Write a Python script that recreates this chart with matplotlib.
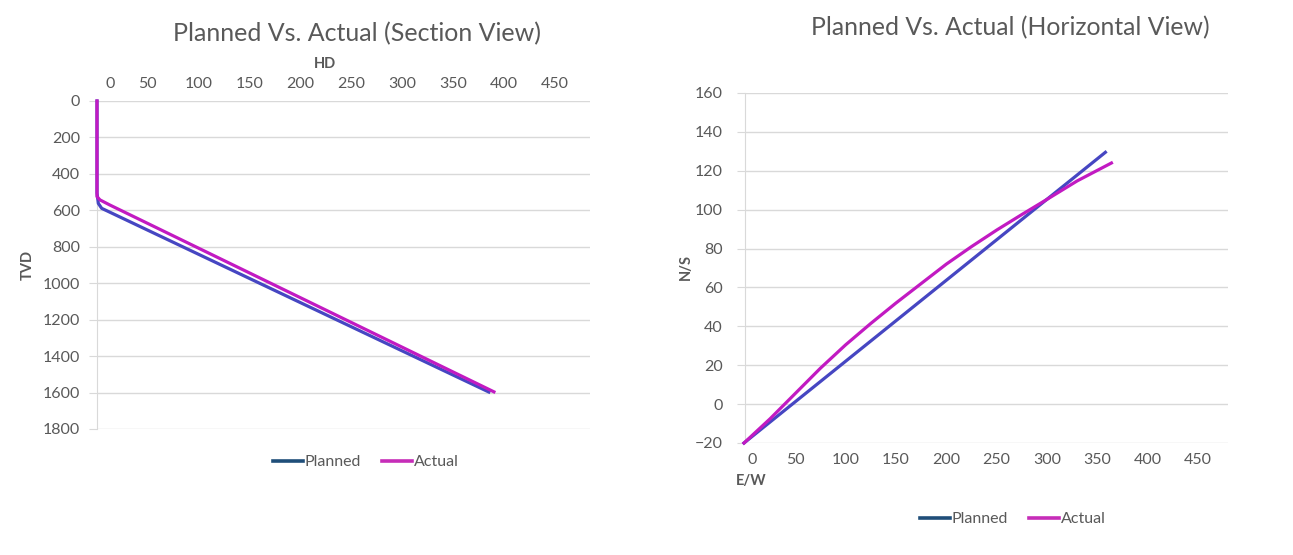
import matplotlib
matplotlib.use("Agg")
import matplotlib.pyplot as plt
from matplotlib.lines import Line2D

plt.rcParams['font.family'] = ['Lato', 'DejaVu Sans']

# ---- Section view data (HD vs TVD) ----
sec_planned_hd = [0, 0, 1.3, 4.6, 385]
sec_planned_tvd = [0, 505, 562, 589, 1597]
sec_actual_hd = [0, 0, 3, 12.7, 390]
sec_actual_tvd = [0, 525, 543, 571, 1596]

# ---- Horizontal view data (E/W vs N/S) ----
hor_planned_ew = [-1, 358]
hor_planned_ns = [-20, 129.5]
hor_actual_ew = [-1, 25, 50, 75, 100, 125, 150, 175, 200, 225, 250, 275, 300, 330, 364]
hor_actual_ns = [-20, -7.5, 5.5, 18.5, 30.5, 41.5, 52, 62, 72, 81, 89.5, 97.5, 105.3, 114.8, 124]

sec_xticks = [0, 50, 100, 150, 200, 250, 300, 350, 400, 450]
sec_yticks = [0, 200, 400, 600, 800, 1000, 1200, 1400, 1600, 1800]
hor_xticks = [0, 50, 100, 150, 200, 250, 300, 350, 400, 450]
hor_yticks = [-20, 0, 20, 40, 60, 80, 100, 120, 140, 160]

TXT = '#595959'
GRID = '#D9D9D9'
C_PLAN = '#4646C2'
C_ACT = '#C21AC2'
L_PLAN = '#1F4E79'
L_ACT = '#C62DB8'
LW = 2.3
FS = 11.5

W, H = 1293, 555
fig = plt.figure(figsize=(W / 100, H / 100), dpi=100)


def ax_rect(x0, y0, x1, y1):
    return [x0 / W, 1 - y1 / H, (x1 - x0) / W, (y1 - y0) / H]


# ---------- Left chart ----------
ax1 = fig.add_axes(ax_rect(97, 101, 590, 429))
ax1.plot(sec_planned_hd, sec_planned_tvd, color=C_PLAN, lw=LW, clip_on=False, zorder=3)
ax1.plot(sec_actual_hd, sec_actual_tvd, color=C_ACT, lw=LW, clip_on=False, zorder=3)
ax1.set_xlim(0, 484.4)
ax1.set_ylim(1800, 0)
ax1.xaxis.tick_top()
ax1.set_xticks(sec_xticks)
ax1.set_xticklabels([''] + [str(v) for v in sec_xticks[1:]])
ax1.set_yticks(sec_yticks)
ax1.grid(axis='y', color=GRID, lw=1)
ax1.set_axisbelow(True)
for s in ['top', 'right', 'bottom']:
    ax1.spines[s].set_visible(False)
ax1.spines['left'].set_color(GRID)
ax1.spines['left'].set_zorder(1)
ax1.tick_params(axis='y', colors=GRID, labelcolor=TXT, labelsize=FS, length=6, pad=6)
ax1.tick_params(axis='x', length=0, labelcolor=TXT, labelsize=FS, pad=7)
ax1.annotate(str(sec_xticks[0]), xy=(sec_xticks[0], 1), xycoords=('data', 'axes fraction'),
             xytext=(13, 9.7), textcoords='offset pixels', ha='center', va='bottom',
             fontsize=FS, color=TXT, annotation_clip=False)

fig.text(357 / W, 1 - 34 / H, 'Planned Vs. Actual (Section View)', ha='center', va='center',
         fontsize=18, color=TXT)
fig.text(325 / W, 1 - 64 / H, 'HD', ha='center', va='center', fontsize=10.5,
         fontweight='bold', color=TXT)
fig.text(28 / W, 1 - 265 / H, 'TVD', ha='center', va='center', fontsize=10.5,
         fontweight='bold', color=TXT, rotation=90)

# ---------- Right chart ----------
ax2 = fig.add_axes(ax_rect(745, 93, 1228, 443))
ax2.plot(hor_planned_ew, hor_planned_ns, color=C_PLAN, lw=LW, clip_on=False, zorder=3)
ax2.plot(hor_actual_ew, hor_actual_ns, color=C_ACT, lw=LW, clip_on=False, zorder=3)
ax2.set_xlim(0, 479.8)
ax2.set_ylim(-20, 160)
ax2.set_xticks(hor_xticks)
ax2.set_xticklabels([''] + [str(v) for v in hor_xticks[1:]])
ax2.set_yticks(hor_yticks)
ax2.grid(axis='y', color=GRID, lw=1)
ax2.set_axisbelow(True)
for s in ['top', 'right', 'bottom']:
    ax2.spines[s].set_visible(False)
ax2.spines['left'].set_color(GRID)
ax2.spines['left'].set_zorder(1)
ax2.tick_params(axis='y', colors=GRID, labelcolor=TXT, labelsize=FS, length=6, pad=10)
ax2.tick_params(axis='x', length=0, labelcolor=TXT, labelsize=FS, pad=7)
ax2.annotate(str(hor_xticks[0]), xy=(hor_xticks[0], 0), xycoords=('data', 'axes fraction'),
             xytext=(7, -9.7), textcoords='offset pixels', ha='center', va='top',
             fontsize=FS, color=TXT, annotation_clip=False)

fig.text(1010 / W, 1 - 28 / H, 'Planned Vs. Actual (Horizontal View)', ha='center', va='center',
         fontsize=17.8, color=TXT)
fig.text(751 / W, 1 - 481 / H, 'E/W', ha='center', va='center', fontsize=10.5,
         fontweight='bold', color=TXT)
fig.text(686 / W, 1 - 267 / H, 'N/S', ha='center', va='center', fontsize=10.5,
         fontweight='bold', color=TXT, rotation=90)

# ---------- Legends ----------
handles = [Line2D([0], [0], color=L_PLAN, lw=2.6), Line2D([0], [0], color=L_ACT, lw=2.6)]
labels = ['Planned', 'Actual']
for cx, cy in [(366, 462), (1013, 519)]:
    fig.legend(handles, labels, loc='center', bbox_to_anchor=(cx / W, 1 - cy / H), ncol=2,
               frameon=False, fontsize=FS, labelcolor=TXT, handlelength=1.9,
               handletextpad=0.1, columnspacing=1.3)

fig.savefig('out.png', dpi=100, facecolor='white')
